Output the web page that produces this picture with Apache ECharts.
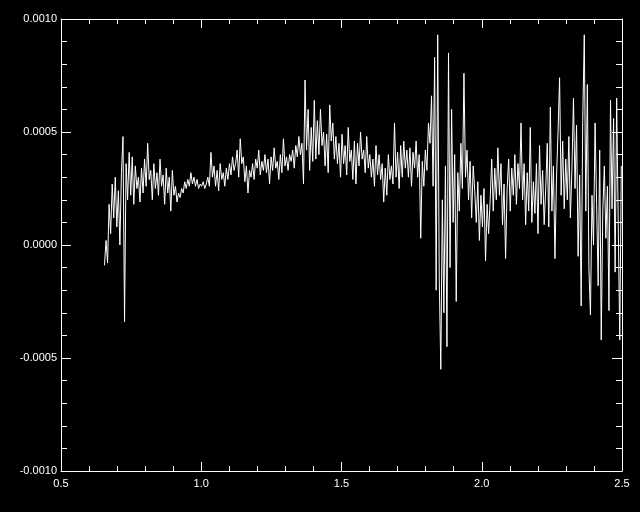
<!DOCTYPE html>
<html>
<head>
<meta charset="utf-8">
<script src="https://cdn.jsdelivr.net/npm/echarts@6/dist/echarts.min.js"></script>
<style>
html,body{margin:0;padding:0;background:#000;}
#chart{width:640px;height:512px;}
</style>
</head>
<body>
<div id="chart"></div>
<script>
// Sampling grid (wavelength, microns)
const xStart = 0.655;
const xStep = 0.0055;

// Flux values
const fluxA = [-0.00009,0.00002,-0.00008,0.00018,0.00005,0.00027,0.00012,0.00030,0.00008,0.00024,0.00000,0.00032,0.00048,-0.00034,0.00036,0.00020,0.00041];
const fluxB = [0.00022,0.00039,0.00018,0.00035,0.00025,0.00030,0.00019,0.00034,0.00023,0.00038,0.00026,0.00045,0.00029,0.00033,0.00020,0.00036,0.00025,0.00032,0.00022,0.00038,0.00026,0.00031,0.00018,0.00034,0.00023,0.00030,0.00015,0.00033,0.00022,0.00026,0.00019,0.00023,0.00021,0.00025,0.00023,0.00028,0.00025,0.00029,0.00026,0.00032,0.00027,0.00030,0.00026,0.00029,0.00025,0.00027,0.00026];
const fluxC = [0.00028,0.00025,0.00027,0.00030,0.00026,0.00041,0.00030,0.00035,0.00026,0.00033,0.00024,0.00036,0.00029,0.00032,0.00026,0.00034,0.00029,0.00036,0.00031,0.00039,0.00033,0.00036,0.00042,0.00030,0.00047,0.00036,0.00039,0.00028,0.00035,0.00023,0.00033,0.00030,0.00036,0.00029,0.00038,0.00034,0.00042,0.00031,0.00037,0.00033,0.00040,0.00032,0.00038,0.00027,0.00039,0.00033,0.00043,0.00034,0.00037,0.00029,0.00040,0.00032,0.00047,0.00035,0.00039,0.00033,0.00040,0.00037,0.00042,0.00034,0.00044,0.00039,0.00048,0.00040,0.00045,0.00027,0.00073,0.00042];
const fluxD = [0.00060,0.00033,0.00052,0.00037,0.00064,0.00038,0.00055,0.00040,0.00060,0.00044,0.00050,0.00035,0.00049,0.00032,0.00062,0.00046,0.00054,0.00038,0.00048,0.00036,0.00045,0.00030,0.00049,0.00036,0.00044,0.00031,0.00052,0.00037,0.00042,0.00029,0.00046,0.00027,0.00045,0.00035,0.00050,0.00038,0.00042,0.00032,0.00048,0.00034,0.00040,0.00030,0.00038,0.00026,0.00044,0.00031,0.00040,0.00029,0.00036,0.00019,0.00034,0.00022,0.00040,0.00029,0.00035,0.00027,0.00054,0.00030,0.00041,0.00025,0.00044,0.00030,0.00046,0.00034,0.00042];
const fluxE = [0.00030,0.00043,0.00026,0.00041,0.00034,0.00046,0.00030,0.00040,0.00003,0.00037,0.00026,0.00042,0.00033,0.00054,0.00045,0.00066,0.00026,0.00083,-0.00020,0.00093,-0.00015,-0.00055,0.00020,-0.00030,0.00035,-0.00045,0.00085,-0.00010,0.00060,0.00010,0.00040,-0.00025,0.00032,0.00015,0.00045,0.00025,0.00076,0.00030,0.00042,0.00020,0.00037,0.00012,0.00035,0.00024,0.00010,0.00028,0.00002,0.00022,0.00008,0.00025,-0.00007,0.00018,0.00005,0.00020,0.00038,0.00015,0.00034,0.00020,0.00043,0.00022,0.00036,0.00009,0.00027,-0.00006,0.00025,0.00038,0.00015,0.00034];
const fluxF = [0.00022,0.00040,0.00018,0.00036,0.00025,0.00054,0.00020,0.00036,0.00009,0.00032,0.00015,0.00052,0.00010,0.00028,0.00014,0.00036,0.00005,0.00044,0.00018,0.00033,0.00009,0.00025,0.00045,0.00008,0.00061,0.00015,0.00035,-0.00006,0.00030,0.00050,0.00074,0.00022,0.00046,0.00016,0.00038,0.00020,0.00048,0.00012,0.00034,0.00065,0.00025,0.00053,-0.00005,0.00031,-0.00027,0.00055,0.00093,0.00015,0.00071,-0.00010,-0.00031,0.00022,0.00000,0.00054,0.00018,-0.00018,0.00042,-0.00042,0.00015,0.00035,0.00003,0.00026,-0.00029,0.00064,0.00016,0.00056,-0.00012,0.00065,0.00010,-0.00042,0.00035];

const flux = [].concat(fluxA, fluxB, fluxC, fluxD, fluxE, fluxF);
const points = flux.map((v, i) => [xStart + i * xStep, v]);

const xTickLabels = ['0.5','1.0','1.5','2.0','2.5'];
const yTickLabels = ['-0.0010','-0.0005','0.0000','0.0005','0.0010'];

const fg = '#ffffff';
const labelFont = {color: fg, fontFamily: 'Liberation Sans, Arial, sans-serif', fontSize: 11};

function xAxisBase(pos, showLabel) {
  return {
    type: 'value', position: pos, min: 0.5, max: 2.5, interval: 0.5,
    axisLine: {show: true, onZero: false, lineStyle: {color: fg, width: 1}},
    axisTick: {show: true, inside: true, length: 9, lineStyle: {color: fg}},
    minorTick: {show: true, splitNumber: 5, length: 5, lineStyle: {color: fg}},
    splitLine: {show: false},
    axisLabel: Object.assign({show: showLabel, margin: 7,
      formatter: v => xTickLabels[Math.round((v - 0.5) / 0.5)] || ''}, labelFont)
  };
}
function yAxisBase(pos, showLabel) {
  return {
    type: 'value', position: pos, min: -0.001, max: 0.001, interval: 0.0005,
    axisLine: {show: true, onZero: false, lineStyle: {color: fg, width: 1}},
    axisTick: {show: true, inside: true, length: 10, lineStyle: {color: fg}},
    minorTick: {show: true, splitNumber: 5, length: 6, lineStyle: {color: fg}},
    splitLine: {show: false},
    axisLabel: Object.assign({show: showLabel, margin: 4,
      formatter: v => yTickLabels[Math.round((v + 0.001) / 0.0005)] || ''}, labelFont)
  };
}

const chart = echarts.init(document.getElementById('chart'), null, {renderer: 'canvas'});
chart.setOption({
  backgroundColor: '#000000',
  animation: false,
  grid: {left: 61, right: 18, top: 19, bottom: 41, containLabel: false},
  xAxis: [xAxisBase('bottom', true), xAxisBase('top', false)],
  yAxis: [yAxisBase('left', true), yAxisBase('right', false)],
  series: [{
    type: 'line', xAxisIndex: 0, yAxisIndex: 0, data: points,
    showSymbol: false, symbol: 'none',
    lineStyle: {color: fg, width: 1}, clip: true
  }]
});
</script>
</body>
</html>
